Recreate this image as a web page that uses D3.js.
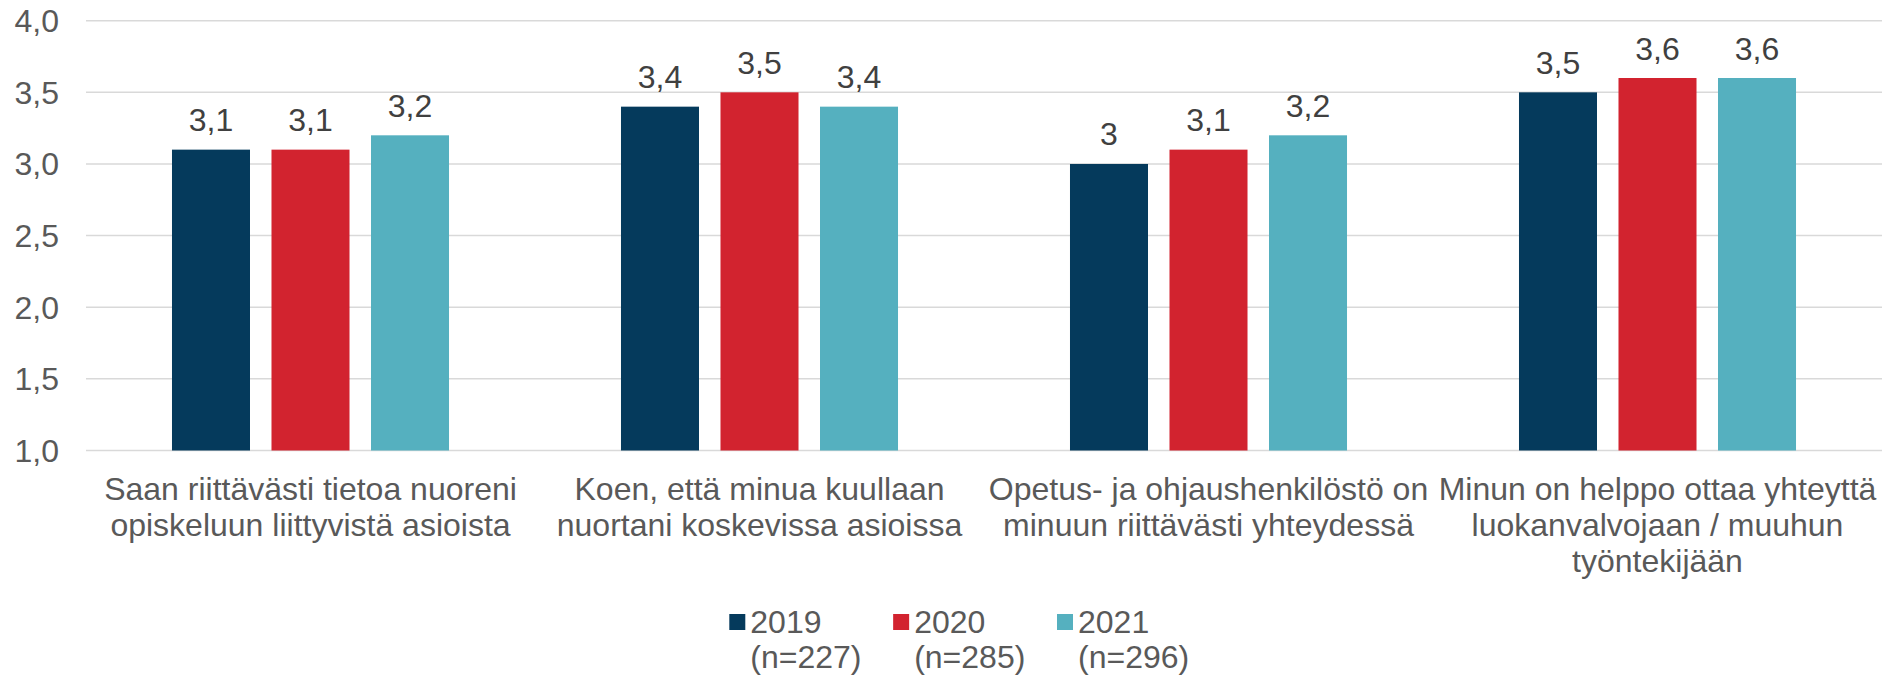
<!DOCTYPE html>
<html>
<head>
<meta charset="utf-8">
<script src="https://cdn.jsdelivr.net/npm/d3@7"></script>
<style>
  html, body { margin: 0; padding: 0; background: #fff; }
  svg text { font-family: "Liberation Sans", Arial, sans-serif; }
</style>
</head>
<body>
<svg id="chart" width="1888" height="675"></svg>
<script>
const categories = [
  ["Saan riittävästi tietoa nuoreni", "opiskeluun liittyvistä asioista"],
  ["Koen, että minua kuullaan", "nuortani koskevissa asioissa"],
  ["Opetus- ja ohjaushenkilöstö on", "minuun riittävästi yhteydessä"],
  ["Minun on helppo ottaa yhteyttä", "luokanvalvojaan / muuhun", "työntekijään"]
];
const seriesNames = ["2019", "2020", "2021"];
const seriesN = ["(n=227)", "(n=285)", "(n=296)"];
const values2019 = [3.1, 3.4, 3.0, 3.5];
const values2020 = [3.1, 3.5, 3.1, 3.6];
const values2021 = [3.2, 3.4, 3.2, 3.6];
const colors = ["#053A5C", "#D2232F", "#55B0BF"];
const yTicks = [1.0, 1.5, 2.0, 2.5, 3.0, 3.5, 4.0];

(function () {
const seriesValues = [values2019, values2020, values2021];
const svg = d3.select("#chart");
const pLeft = 86, pRight = 1882, pTop = 20.7, pBottom = 450.5;
const fs = 32;

const catIdx = categories.map((c, i) => i);
const x0 = d3.scaleBand().domain(catIdx).range([pLeft, pRight]).paddingInner(0.383).paddingOuter(0.383 / 2);
const x1 = d3.scaleBand().domain(seriesNames).range([0, x0.bandwidth()]).paddingInner(0.216).paddingOuter(0);
const y = d3.scaleLinear().domain([1, 4]).range([pBottom, pTop]);

// gridlines
svg.append("g").selectAll("line").data(yTicks).join("line")
  .attr("x1", pLeft).attr("x2", pRight)
  .attr("y1", d => y(d)).attr("y2", d => y(d))
  .attr("stroke", "#D9D9D9").attr("stroke-width", 1.5);

// y axis labels
const yAxis = d3.axisLeft(y).tickValues(yTicks).tickSize(0).tickPadding(0)
  .tickFormat(d => d3.format(".1f")(d).replace(".", ","));
const yg = svg.append("g").attr("transform", `translate(59,0)`).call(yAxis);
yg.select(".domain").remove();
yg.attr("font-size", null).attr("font-family", null);
yg.selectAll("text").attr("font-size", fs).attr("fill", "#595959").attr("dy", "0.34em");

// bars
const groups = svg.append("g").selectAll("g").data(catIdx).join("g")
  .attr("transform", d => `translate(${x0(d)},0)`);
groups.selectAll("rect").data(ci => seriesNames.map((s, si) => ({s, si, v: seriesValues[si][ci]}))).join("rect")
  .attr("x", d => x1(d.s)).attr("width", x1.bandwidth())
  .attr("y", d => y(d.v)).attr("height", d => y(1) - y(d.v))
  .attr("fill", d => colors[d.si]);
groups.selectAll("text.val").data(ci => seriesNames.map((s, si) => ({s, si, v: seriesValues[si][ci]}))).join("text")
  .attr("class", "val")
  .attr("x", d => x1(d.s) + x1.bandwidth() / 2)
  .attr("y", d => y(d.v) - 18.5)
  .attr("text-anchor", "middle").attr("font-size", fs).attr("fill", "#404040")
  .text(d => String(d.v).replace(".", ","));

// category labels
const cg = svg.append("g").selectAll("text").data(catIdx).join("text")
  .attr("x", d => x0(d) + x0.bandwidth() / 2).attr("y", 500)
  .attr("text-anchor", "middle").attr("font-size", fs).attr("fill", "#595959");
cg.selectAll("tspan").data(d => categories[d].map(t => ({t, cx: x0(d) + x0.bandwidth() / 2}))).join("tspan")
  .attr("x", d => d.cx)
  .attr("dy", (d, i) => i === 0 ? 0 : 36)
  .text(d => d.t);

// legend
const legX = d3.scalePoint().domain(seriesNames).range([729.3, 1057]);
const lg = svg.append("g").selectAll("g").data(seriesNames).join("g")
  .attr("transform", d => `translate(${legX(d)},0)`);
lg.append("rect").attr("x", 0).attr("y", 614).attr("width", 16).attr("height", 16)
  .attr("fill", (d, i) => colors[i]);
const lt = lg.append("text").attr("x", 21).attr("y", 632.7).attr("font-size", fs).attr("fill", "#595959");
lt.append("tspan").attr("x", 21).text(d => d);
lt.append("tspan").attr("x", 21).attr("dy", 35).text((d, i) => seriesN[i]);
})();
</script>
</body>
</html>
